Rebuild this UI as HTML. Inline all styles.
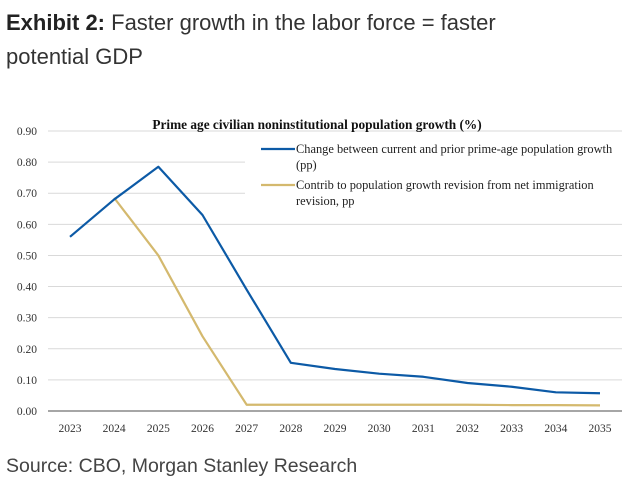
<!DOCTYPE html>
<html><head><meta charset="utf-8"><style>
body{margin:0;width:635px;height:497px;background:#fff;overflow:hidden;font-family:"Liberation Sans",sans-serif}
#h{position:absolute;left:6px;top:6px;font-size:22px;line-height:34px;color:#333}
#s{position:absolute;left:6px;top:455px;font-size:19.5px;color:#444}
svg{position:absolute;left:0;top:0}
</style></head><body>
<div id="h"><b style="color:#222">Exhibit 2:</b> Faster growth in the labor force = faster<br>potential GDP</div>
<svg id="c" width="635" height="497"></svg>
<div id="s">Source: CBO, Morgan Stanley Research</div>
<script>
const years=["2023","2024","2025","2026","2027","2028","2029","2030","2031","2032","2033","2034","2035"];
const popGrowthChange=[0.56,0.68,0.785,0.63,0.39,0.155,0.135,0.12,0.11,0.09,0.078,0.06,0.057];
const immigrationContrib=[null,0.685,0.50,0.24,0.02,0.02,0.02,0.02,0.02,0.02,0.019,0.019,0.018];
const yTicks=[0,0.1,0.2,0.3,0.4,0.5,0.6,0.7,0.8,0.9];
const svg=document.getElementById('c'),NS='http://www.w3.org/2000/svg';
const L=48,R=622,Y0=411,Y1=131;
const x=i=>70+i*(600-70)/(years.length-1);
const y=v=>Y0-(v/0.9)*(Y0-Y1);
function mk(t,a,txt){const e=document.createElementNS(NS,t);for(const k in a)e.setAttribute(k,a[k]);if(txt!=null)e.textContent=txt;svg.appendChild(e);return e;}
const ff='"Liberation Serif",serif';
yTicks.forEach(v=>{
 if(v>0){const g=mk('line',{x1:L,x2:R,y1:y(v),y2:y(v),stroke:'#d9d9d9','stroke-width':1});
 
 }
 const t=mk('text',{x:37,y:y(v)+4,'text-anchor':'end','font-size':11.5,'font-family':ff,fill:'#333'},v.toFixed(2));
 
 
});
const bg=mk('rect',{x:150,y:112,width:334,height:18,fill:'#fff'});


const bg2=mk('rect',{x:245,y:138,width:377,height:75,fill:'#fff'});


const ax=mk('line',{x1:L,x2:R,y1:Y0,y2:Y0,stroke:'#888','stroke-width':1.5});


years.forEach((yr,i)=>{const t=mk('text',{x:x(i),y:432,'text-anchor':'middle','font-size':11.5,'font-family':ff,fill:'#333'},yr);
 
 });
function line(data,color,name){let d='';data.forEach((v,i)=>{if(v==null)return;d+=(d?'L':'M')+x(i)+','+y(v);});
 const p=mk('path',{d:d,fill:'none',stroke:color,'stroke-width':2.2,'stroke-linejoin':'round'});
 
 }
line(immigrationContrib,'#d4b96e','immigration-contrib-line');
line(popGrowthChange,'#0c5aa6','population-growth-change-line');
const tt=mk('text',{x:317,y:129,'text-anchor':'middle','font-size':13.3,'font-weight':'bold','font-family':ff,fill:'#111'},'Prime age civilian noninstitutional population growth (%)');


[['#0c5aa6',149,['Change between current and prior prime-age population growth','(pp)']],['#d4b96e',185,['Contrib to population growth revision from net immigration','revision, pp']]].forEach(([c,yy,ls],k)=>{
 const l=mk('line',{x1:261,x2:295,y1:yy,y2:yy,stroke:c,'stroke-width':2.2});
 
 
 ls.forEach((s,j)=>{const t=mk('text',{x:296,y:yy+4+j*16,'font-size':12.4,'font-family':ff,fill:'#222'},s);
 
 });
});
</script>
</body></html>
